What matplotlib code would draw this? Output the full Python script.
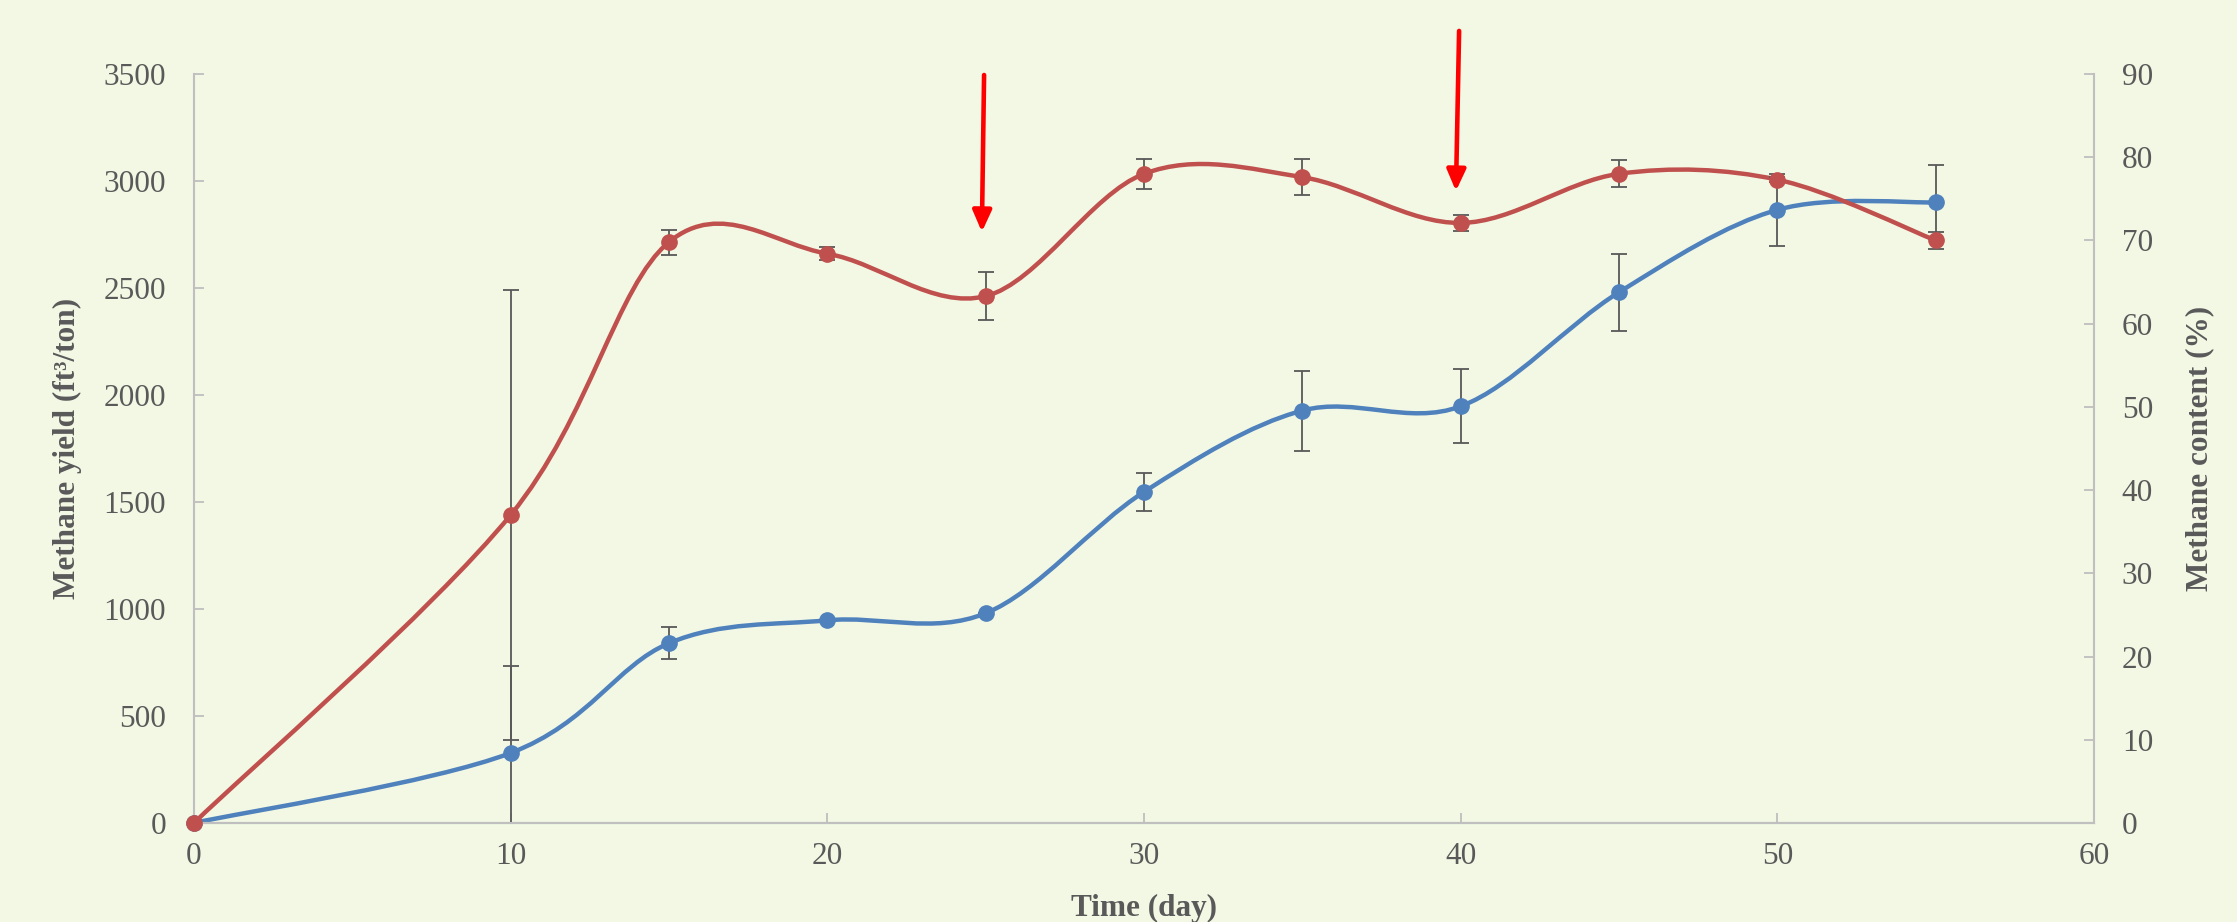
import numpy as np
import matplotlib
matplotlib.use("Agg")
import matplotlib.pyplot as plt
from matplotlib.path import Path
from matplotlib.patches import PathPatch

# sampling days
days = [0, 10, 15, 20, 25, 30, 35, 40, 45, 50, 55]

# cumulative methane yield (ft3/ton) and its error
yield_vals = [0, 327, 840, 947, 980, 1547, 1927, 1947, 2480, 2865, 2900]
yield_err = [0, 405, 75, 0, 0, 87, 187, 173, 180, 168, 173]

# methane content (%) and its error
content_vals = [0, 37.0, 69.8, 68.4, 63.3, 78.0, 77.6, 72.1, 78.0, 77.3, 70.0]
content_err = [0, 27.0, 1.5, 0.8, 2.9, 1.8, 2.2, 1.0, 1.6, 0.3, 1.0]

# feeding events marked with arrows: (x_start, y_start, x_tip, y_tip) in yield units
feed_arrows = [(24.95, 3495, 24.88, 2762), (39.95, 3701, 39.85, 2953)]

BG = "#F2F8E4"
GREY = "#595959"
AXIS = "#BFBFBF"
BLUE = "#4F81BD"
RED = "#C0504D"
SERIF = "Liberation Serif"


def smooth_path(x, y):
    # Catmull-Rom style cubic bezier through every point (spreadsheet "smoothed line")
    pts = np.column_stack([x, y]).astype(float)
    n = len(pts)
    verts = [pts[0]]
    codes = [Path.MOVETO]
    for i in range(n - 1):
        p0 = pts[max(i - 1, 0)]
        p1 = pts[i]
        p2 = pts[i + 1]
        p3 = pts[min(i + 2, n - 1)]
        c1 = p1 + (p2 - p0) / 6.0
        c2 = p2 - (p3 - p1) / 6.0
        verts += [c1, c2, p2]
        codes += [Path.CURVE4] * 3
    return Path(verts, codes)


def draw_series(ax, x, y, err, color):
    ax.add_patch(PathPatch(smooth_path(x, y), fill=False, edgecolor=color,
                           lw=3.2, capstyle="round", joinstyle="round", zorder=2))
    ax.errorbar(x, y, yerr=err, fmt="none", ecolor=GREY, elinewidth=1.3,
                capsize=5.5, capthick=1.3, zorder=3)
    ax.plot(x, y, ls="none", marker="o", ms=11, color=color,
            zorder=4, clip_on=False)


fig = plt.figure(figsize=(22.37, 9.22), dpi=100, facecolor=BG)
ax = fig.add_axes([0.0867, 0.1074, 0.8494, 0.8124])
ax.set_facecolor(BG)
ax2 = ax.twinx()
ax2.patch.set_visible(False)

draw_series(ax, days, yield_vals, yield_err, BLUE)
draw_series(ax2, days, content_vals, content_err, RED)

ax.set_xlim(0, 60)
ax.set_ylim(0, 3500)
ax2.set_ylim(0, 90)
ax.set_xticks(range(0, 61, 10))
ax.set_yticks(range(0, 3501, 500))
ax2.set_yticks(range(0, 91, 10))

for a in (ax, ax2):
    a.spines["top"].set_visible(False)
    for s in a.spines.values():
        s.set_color(AXIS)
        s.set_linewidth(1.5)
    a.tick_params(direction="in", length=7, width=1.3, color=AXIS,
                  labelcolor=GREY, labelsize=22.5, pad=20)
    for lab in a.get_xticklabels() + a.get_yticklabels():
        lab.set_family(SERIF)
ax.spines["right"].set_visible(False)
ax2.spines["left"].set_visible(False)
ax.tick_params(axis="x", pad=14)

lab_kw = dict(fontsize=22.5, fontweight="bold", color=GREY, family=SERIF)
ax.set_xlabel("Time (day)", **lab_kw)
ax.set_ylabel("Methane yield (ft³/ton)", **lab_kw)
ax2.set_ylabel("Methane content (%)", **lab_kw)
ax.xaxis.set_label_coords(0.5, -0.095)
ax.yaxis.set_label_coords(-0.059, 0.5)
ax2.yaxis.set_label_coords(1.048, 0.5)

for x0, y0, x1, y1 in feed_arrows:
    ax.annotate("", xy=(x1, y1), xytext=(x0, y0), annotation_clip=False,
                arrowprops=dict(arrowstyle="-|>,head_length=0.85,head_width=0.38",
                                mutation_scale=15, color="#FF0000", lw=3.3,
                                shrinkA=0, shrinkB=0), zorder=5)

fig.savefig("out.png", dpi=100, facecolor=BG)
